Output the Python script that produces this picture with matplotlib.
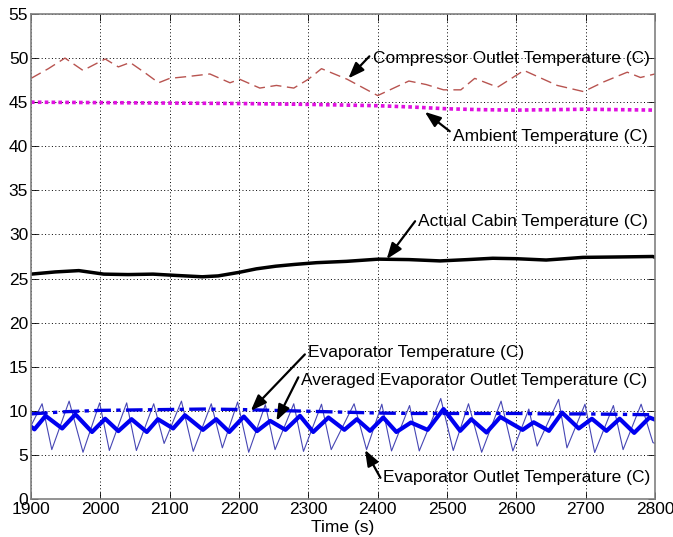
import matplotlib
matplotlib.use("Agg")
import matplotlib.pyplot as plt

plt.rcParams['font.family'] = ['Liberation Sans', 'DejaVu Sans']

# ---------------- data ----------------
comp_t = [1900, 1925, 1949, 1975, 2007, 2026, 2043, 2065, 2084, 2100, 2125, 2158, 2187, 2201,
          2230, 2254, 2279, 2300, 2319, 2356, 2400, 2445, 2470, 2495, 2520, 2540, 2573, 2611,
          2659, 2697, 2726, 2760, 2779, 2800]
comp_v = [47.7, 48.8, 50.0, 48.6, 49.9, 49.0, 49.5, 48.3, 47.2, 47.7, 47.9, 48.2, 47.2, 47.6,
          46.6, 46.9, 46.6, 47.6, 48.8, 47.6, 45.75, 47.4, 47.0, 46.4, 46.4, 47.7, 46.7, 48.6,
          46.9, 46.2, 47.3, 48.4, 47.8, 48.2]

amb_t = [1900, 2000, 2100, 2200, 2300, 2400, 2450, 2500, 2550, 2600, 2650, 2700, 2750, 2800]
amb_v = [45.0, 44.95, 44.9, 44.85, 44.75, 44.6, 44.45, 44.25, 44.15, 44.1, 44.15, 44.2, 44.15, 44.1]

cabin_t = [1900, 1935, 1969, 2005, 2040, 2076, 2110, 2147, 2170, 2200, 2225, 2253, 2280, 2312,
           2355, 2401, 2445, 2490, 2530, 2566, 2600, 2643, 2670, 2696, 2750, 2797, 2800]
cabin_v = [25.5, 25.75, 25.9, 25.5, 25.45, 25.5, 25.35, 25.2, 25.3, 25.7, 26.1, 26.4, 26.6, 26.8,
           26.95, 27.2, 27.15, 27.0, 27.15, 27.3, 27.25, 27.1, 27.25, 27.4, 27.45, 27.5, 27.4]

evap_t = [1900, 1950, 2000, 2050, 2100, 2150, 2200, 2250, 2300, 2350, 2400, 2450, 2500, 2550,
          2600, 2650, 2700, 2750, 2800]
evap_v = [9.65, 9.9, 10.05, 10.1, 10.15, 10.2, 10.15, 10.05, 9.95, 9.85, 9.75, 9.7, 9.7, 9.7,
          9.7, 9.65, 9.65, 9.6, 9.55]

outlet_t = [1900, 1916, 1930, 1955, 1975, 1999, 2013, 2038, 2052, 2077, 2092, 2117, 2134, 2160,
            2176, 2198, 2214, 2238, 2252, 2279, 2293, 2319, 2333, 2366, 2384, 2406, 2420, 2446,
            2460, 2491, 2509, 2531, 2550, 2578, 2595, 2618, 2630, 2661, 2673, 2699, 2713, 2740,
            2754, 2780, 2797, 2800]
outlet_v = [8.3, 10.8, 5.6, 11.1, 5.3, 10.9, 5.5, 10.9, 5.5, 10.8, 6.3, 11.1, 5.4, 10.8,
            5.8, 11.0, 5.3, 10.7, 5.6, 10.8, 5.4, 10.75, 5.6, 10.8, 5.6, 10.75, 5.45, 10.6,
            5.45, 11.4, 5.5, 10.8, 5.3, 11.1, 5.45, 10.2, 6.0, 11.3, 5.8, 10.75, 5.27, 10.6,
            5.6, 10.75, 6.4, 6.3]

avg_t = [1900, 1905, 1921, 1945, 1964, 1988, 2007, 2026, 2045, 2067, 2083, 2105, 2122, 2148,
         2167, 2186, 2207, 2226, 2245, 2267, 2288, 2307, 2329, 2352, 2370, 2389, 2408, 2427,
         2448, 2472, 2495, 2519, 2535, 2557, 2577, 2609, 2625, 2647, 2666, 2690, 2709, 2730,
         2749, 2770, 2792, 2800]
avg_v = [8.2, 7.9, 9.43, 8.0, 9.6, 7.6, 9.1, 7.7, 9.05, 7.6, 9.05, 8.0, 9.5, 7.84,
         9.05, 7.6, 9.35, 7.7, 8.86, 7.84, 9.43, 7.6, 9.24, 7.85, 9.05, 7.73, 9.24, 7.6,
         8.67, 7.84, 10.2, 7.73, 9.05, 7.54, 9.3, 7.84, 8.7, 7.73, 9.8, 8.0, 9.1, 7.73,
         9.1, 7.5, 9.24, 9.0]

x_ticks = list(range(1900, 2801, 100))
y_ticks = list(range(0, 56, 5))

# ---------------- figure ----------------
fig = plt.figure(figsize=(6.73, 5.37), dpi=100)
ax = fig.add_axes([31 / 673, 38 / 537, 624 / 673, 485 / 537])

ax.plot(comp_t, comp_v, color='#B85450', lw=1.0, ls=(0, (8, 4)))
ax.plot(amb_t, amb_v, color='#E010E0', lw=2.6, ls=(0, (1, 0.9)))
ax.plot(cabin_t, cabin_v, color='black', lw=2.5, solid_joinstyle='round')
ax.plot(outlet_t, outlet_v, color='#4646B4', lw=0.8)
ax.plot(avg_t, avg_v, color='#0000F0', lw=3.0, solid_joinstyle='round')
ax.plot(evap_t, evap_v, color='#0000E6', lw=2.4, ls=(0, (5, 1.6, 1.3, 1.6)))

ax.set_xlim(1900, 2800)
ax.set_ylim(0, 55)
ax.set_xticks(x_ticks)
ax.set_yticks(y_ticks)
ax.grid(True, color='black', ls=(0, (1, 2.5)), lw=0.7)
ax.tick_params(direction='in', top=True, right=True, labelsize=12.5, length=5, width=0.6, pad=2)
for s in ax.spines.values():
    s.set_color('#808080')
    s.set_linewidth(1.2)
ax.set_xlabel('Time (s)', fontsize=12.5, labelpad=2)

arrow_kw = dict(arrowstyle='-|>,head_length=0.8,head_width=0.3', color='black', lw=1.6,
                shrinkA=0, shrinkB=0, mutation_scale=12)

notes = [
    ('Compressor Outlet Temperature (C)', (2393, 50.0), (2388, 50.2), (2357.7, 47.7)),
    ('Ambient Temperature (C)', (2508, 41.1), (2504, 41.7), (2468, 43.9)),
    ('Actual Cabin Temperature (C)', (2458, 31.5), (2454, 31.5), (2413, 27.2)),
    ('Evaporator Temperature (C)', (2300, 16.6), (2295, 16.4), (2217, 10.0)),
    ('Averaged Evaporator Outlet Temperature (C)', (2290, 13.4), (2285.6, 13.8), (2254, 8.86)),
    ('Evaporator Outlet Temperature (C)', (2407, 2.4), (2404, 2.4), (2381.7, 5.57)),
]
for text, tpos, tail, tip in notes:
    ax.text(tpos[0], tpos[1], text, fontsize=12.5, ha='left', va='center')
    ax.annotate('', xy=tip, xytext=tail, arrowprops=arrow_kw)

fig.savefig('out.png', dpi=100)
